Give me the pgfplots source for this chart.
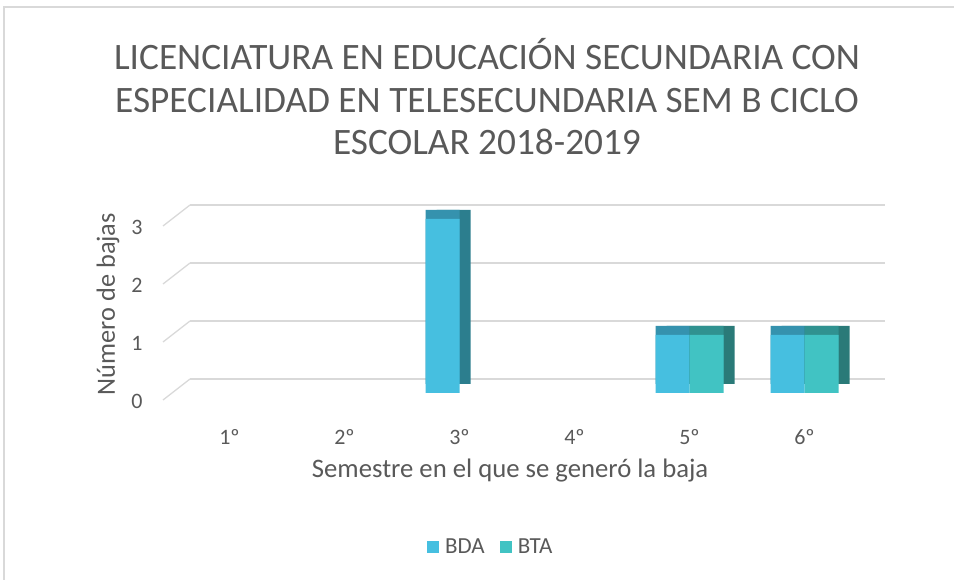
\documentclass[border=0pt]{standalone}
\usepackage{pgfplots}
\pgfplotsset{compat=1.18}
\usepackage{fontspec}
\setmainfont{Carlito}
\definecolor{txt}{HTML}{595959}
\definecolor{gridc}{HTML}{D9D9D9}
\definecolor{bdaF}{HTML}{46BFE0}
\definecolor{bdaT}{HTML}{3592AE}
\definecolor{bdaS}{HTML}{2C7E8E}
\definecolor{btaF}{HTML}{41C3C3}
\definecolor{btaT}{HTML}{309290}
\definecolor{btaS}{HTML}{2A7A78}
\begin{document}
\begin{tikzpicture}
\useasboundingbox (0pt,0pt) rectangle (954pt,580pt);
\draw[gridc, line width=1.2pt] (4pt,0pt) -- (4pt,573pt) -- (954pt,573pt);
\node[txt, font=\fontsize{37.3}{42.5}\selectfont, align=center] at (487pt,483pt)
  {LICENCIATURA EN EDUCACIÓN SECUNDARIA CON\\ESPECIALIDAD EN TELESECUNDARIA SEM B CICLO\\ESCOLAR 2018-2019};
% back wall grid
\begin{axis}[
  at={(190pt,201pt)}, anchor=south west,
  scale only axis, width=695pt, height=174pt,
  xmin=0.5, xmax=6.5, ymin=0, ymax=3,
  clip=false,
  axis line style={draw=none}, tick style={draw=none},
  xtick=\empty, ytick={0,1,2,3}, yticklabels={},
  ymajorgrids, grid style={gridc, line width=1.3pt},
]
\addplot[draw=none] coordinates {(1,0)};
\pgfplotsinvokeforeach{0,1,2,3}{
  \draw[gridc, line width=1.3pt] ([shift={(-27pt,-21pt)}]axis cs:0.5,#1) -- (axis cs:0.5,#1);
}
\end{axis}
\begin{axis}[
  at={(172pt,187pt)}, anchor=south west,
  scale only axis, width=690pt, height=174pt,
  xmin=0.5, xmax=6.5, ymin=0, ymax=3,
  clip=false,
  axis line style={draw=none},
  tick style={draw=none},
  /pgf/number format/assume math mode=true,
  xtick={1,2,3,4,5,6},
  xticklabels={1º,2º,3º,4º,5º,6º},
  ytick={0,1,2,3},
  xticklabel style={anchor=center, yshift=-44pt, font=\fontsize{22}{26}\selectfont, text=txt},
  yticklabel style={anchor=center, xshift=-35pt, yshift=-8pt, font=\fontsize{22}{26}\selectfont, text=txt},
  xlabel={Semestre en el que se generó la baja},
  ylabel={Número de bajas},
  xlabel style={at={(axis description cs:0.49,-0.448)}, anchor=center, font=\fontsize{26.7}{30}\selectfont, text=txt},
  ylabel style={at={(axis description cs:-0.0928,0.511)}, anchor=center, rotate=0, font=\fontsize{26.3}{30}\selectfont, text=txt},
  legend style={at={(0.462,-0.885)}, anchor=center, draw=none, fill=none,
    legend columns=2, font=\fontsize{23}{27}\selectfont, text=txt,
    /tikz/every odd column/.append style={column sep=4pt},
    /tikz/every even column/.append style={column sep=13pt}},
  legend image code/.code={\fill[#1] (0pt,-6pt) rectangle (12pt,6pt);},
]
% BDA
\addplot[ybar, bar width=34pt, bar shift=-17pt, fill=bdaS, draw=none, xshift=11pt, yshift=9pt, forget plot]
  coordinates {(3,3) (5,1) (6,1)};
\addplot[ybar, bar width=34pt, bar shift=-17pt, fill=bdaT, draw=none, yshift=9pt, forget plot]
  coordinates {(3,3) (5,1) (6,1)};
\addplot[ybar, bar width=34pt, bar shift=-17pt, fill=bdaF, draw=none]
  coordinates {(3,3) (5,1) (6,1)};
\addlegendentry{BDA}
% BTA
\addplot[ybar, bar width=34pt, bar shift=17pt, fill=btaS, draw=none, xshift=11pt, yshift=9pt, forget plot]
  coordinates {(5,1) (6,1)};
\addplot[ybar, bar width=34pt, bar shift=17pt, fill=btaT, draw=none, yshift=9pt, forget plot]
  coordinates {(5,1) (6,1)};
\addplot[ybar, bar width=34pt, bar shift=17pt, fill=btaF, draw=none]
  coordinates {(5,1) (6,1)};
\addlegendentry{BTA}
\end{axis}
\end{tikzpicture}
\end{document}
